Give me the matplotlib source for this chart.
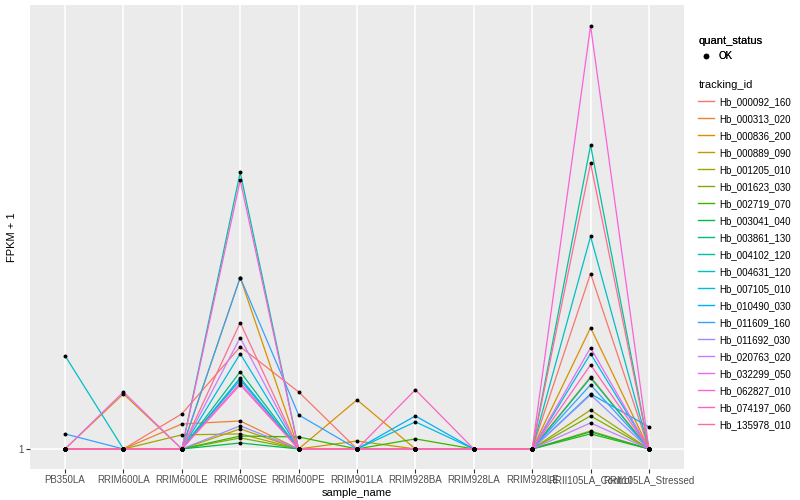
import numpy as np
import matplotlib
matplotlib.use("Agg")
from matplotlib import pyplot as plt
from matplotlib.lines import Line2D

plt.rcParams['font.family'] = ['Liberation Sans', 'DejaVu Sans']

samples = ['PB350LA', 'RRIM600LA', 'RRIM600LE', 'RRIM600SE', 'RRIM600PE', 'RRIM901LA',
           'RRIM928BA', 'RRIM928LA', 'RRIM928LE', 'RRII105LA_Control', 'RRII105LA_Stressed']

tracking_ids = ['Hb_000092_160', 'Hb_000313_020', 'Hb_000836_200', 'Hb_000889_090',
                'Hb_001205_010', 'Hb_001623_030', 'Hb_002719_070', 'Hb_003041_040',
                'Hb_003861_130', 'Hb_004102_120', 'Hb_004631_120', 'Hb_007105_010',
                'Hb_010490_030', 'Hb_011609_160', 'Hb_011692_030', 'Hb_020763_020',
                'Hb_032299_050', 'Hb_062827_010', 'Hb_074197_060', 'Hb_135978_010']

# FPKM + 1, one row per tracking_id, columns in samples order
fpkm1 = [
    [1, 1, 1.189, 1.655, 1.325, 1, 1, 1, 1, 2.374, 1],
    [1, 1, 1.131, 1.148, 1, 1, 1, 1, 1, 1.427, 1],
    [1, 1.312, 1, 2.328, 1, 1.274, 1, 1, 1, 1.818, 1],
    [1, 1, 1, 1.104, 1, 1.040, 1, 1, 1, 1.093, 1],
    [1, 1, 1.072, 1.077, 1, 1, 1, 1, 1, 1.212, 1],
    [1, 1, 1, 1.056, 1, 1, 1, 1, 1, 1.177, 1],
    [1, 1, 1, 1.066, 1.061, 1, 1.051, 1, 1, 1.077, 1],
    [1, 1, 1, 1.030, 1, 1, 1, 1, 1, 1.088, 1],
    [1, 1, 1, 1.463, 1, 1, 1, 1, 1, 1.420, 1],
    [1, 1, 1, 3.911, 1, 1, 1, 1, 1, 4.469, 1],
    [1.584, 1, 1, 1.406, 1, 1, 1, 1, 1, 2.851, 1],
    [1, 1, 1, 1.599, 1, 1, 1.143, 1, 1, 1.599, 1],
    [1, 1, 1, 1.420, 1, 1, 1.177, 1, 1, 1.312, 1.115],
    [1.077, 1, 1, 2.328, 1.183, 1, 1, 1, 1, 1.372, 1],
    [1, 1, 1, 1.121, 1, 1, 1, 1, 1, 1.306, 1],
    [1, 1, 1, 1.731, 1, 1, 1, 1, 1, 1.137, 1],
    [1, 1.325, 1, 1.385, 1, 1, 1, 1, 1, 1.647, 1],
    [1, 1, 1, 3.759, 1, 1, 1, 1, 1, 8.045, 1],
    [1, 1, 1, 1.372, 1, 1, 1.339, 1, 1, 1.514, 1],
    [1, 1, 1, 1.864, 1, 1, 1, 1, 1, 4.088, 1],
]

colors = ['#F8766D', '#EA8331', '#D89000', '#C09B00', '#A3A500', '#7CAE00', '#39B600',
          '#00BB4E', '#00BF7D', '#00C1A3', '#00BFC4', '#00BAE0', '#00B0F6', '#35A2FF',
          '#9590FF', '#C77CFF', '#E76BF3', '#FA62DB', '#FF62BC', '#FF6C91']

fig = plt.figure(figsize=(8, 5), dpi=100)
ax = fig.add_axes([0.0375, 0.062, 0.8175, 0.928])
ax.set_facecolor('#EBEBEB')

x = np.arange(len(samples))
for vals, col in zip(fpkm1, colors):
    ax.plot(x, vals, color=col, lw=0.9, zorder=2)
for vals in fpkm1:
    ax.scatter(x, vals, color='black', s=8, zorder=3, linewidths=0)

ax.set_yscale('log')
ax.set_ylim(0.906, 8.92)
ax.set_xlim(-0.6, len(samples) - 0.4)
ax.set_yticks([1])
ax.set_yticklabels(['1'])
ax.minorticks_off()
ax.set_xticks(x)
ax.set_xticklabels(samples)
ax.tick_params(axis='both', labelsize=7, color='#333333', length=3, pad=1.5,
               labelcolor='#4D4D4D')
ax.grid(True, color='white', lw=1.1, zorder=0)
ax.set_axisbelow(True)
for s in ax.spines.values():
    s.set_visible(False)
ax.set_xlabel('sample_name', fontsize=8, labelpad=2)
ax.set_ylabel('FPKM + 1', fontsize=8, labelpad=1)

# legends
h1 = [Line2D([], [], marker='o', color='black', lw=0, markersize=3)]
leg1 = fig.legend(h1, ['OK'], title='quant_status', loc='upper left',
                  bbox_to_anchor=(0.862, 0.945), frameon=False, fontsize=7,
                  title_fontsize=8, handlelength=1.6, handletextpad=0.5,
                  alignment='left')
fig.add_artist(leg1)
h2 = [Line2D([], [], color=c, lw=1) for c in colors]
fig.legend(h2, tracking_ids, title='tracking_id', loc='upper left',
           bbox_to_anchor=(0.862, 0.858), frameon=False, fontsize=7,
           title_fontsize=8, handlelength=1.6, handletextpad=0.5,
           labelspacing=0.72, alignment='left')

fig.savefig('out.png', dpi=100)
